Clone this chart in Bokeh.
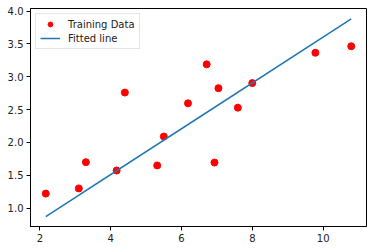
from bokeh.plotting import figure
from bokeh.models import FixedTicker, NumeralTickFormatter, Range1d, Legend, LegendItem
from bokeh.embed import file_html
from bokeh.resources import INLINE

x_train = [3.3, 4.4, 5.5, 6.71, 6.93, 4.168, 9.779, 6.182, 7.59, 2.167, 7.042, 10.791, 5.313, 7.997, 3.1]
y_train = [1.7, 2.76, 2.09, 3.19, 1.694, 1.573, 3.366, 2.596, 2.53, 1.221, 2.827, 3.465, 1.65, 2.904, 1.3]
y_fit = [1.267, 1.651, 2.035, 2.457, 2.534, 1.570, 3.528, 2.273, 2.764, 0.871, 2.573, 3.881, 1.969, 2.906, 1.197]

x_ticks = [2, 4, 6, 8, 10]
y_ticks = [1.0, 1.5, 2.0, 2.5, 3.0, 3.5, 4.0]

p = figure(width=372, height=250, output_backend="svg", toolbar_location=None,
           x_range=Range1d(1.736, 11.222), y_range=Range1d(0.72, 4.04),
           min_border_left=30, min_border_right=6, min_border_top=8, min_border_bottom=24)
p.xgrid.visible = False
p.ygrid.visible = False
p.outline_line_color = "black"
p.outline_line_width = 1
p.background_fill_color = "white"
p.border_fill_color = "white"

for ax in (p.xaxis, p.yaxis):
    ax.axis_line_color = "black"
    ax.major_tick_line_color = "black"
    ax.major_tick_out = 4
    ax.major_tick_in = 0
    ax.minor_tick_line_color = None
    ax.major_label_text_font = "DejaVu Sans"
    ax.major_label_text_font_size = "10px"
    ax.major_label_text_color = "#222222"
    ax.major_label_standoff = 3
p.xaxis.ticker = FixedTicker(ticks=x_ticks)
p.yaxis.ticker = FixedTicker(ticks=y_ticks)
p.xaxis.formatter = NumeralTickFormatter(format="0")
p.yaxis.formatter = NumeralTickFormatter(format="0.0")

r_pts = p.scatter(x_train, y_train, size=7, color="#ff0000", line_color="#ff0000")
r_line = p.line(x_train, y_fit, line_color="#1f77b4", line_width=1.5)

legend = Legend(items=[LegendItem(label="Training Data", renderers=[r_pts]),
                       LegendItem(label="Fitted line", renderers=[r_line])],
                location="top_left")
legend.label_text_font = "DejaVu Sans"
legend.label_text_font_size = "10px"
legend.label_text_color = "#222222"
legend.border_line_color = "#cccccc"
legend.border_line_width = 1
legend.margin = 5
legend.padding = 4
legend.spacing = 2
legend.glyph_width = 20
legend.glyph_height = 12
legend.label_height = 12
legend.label_standoff = 8
p.add_layout(legend)

open("out.html", "w").write(file_html(p, INLINE))
